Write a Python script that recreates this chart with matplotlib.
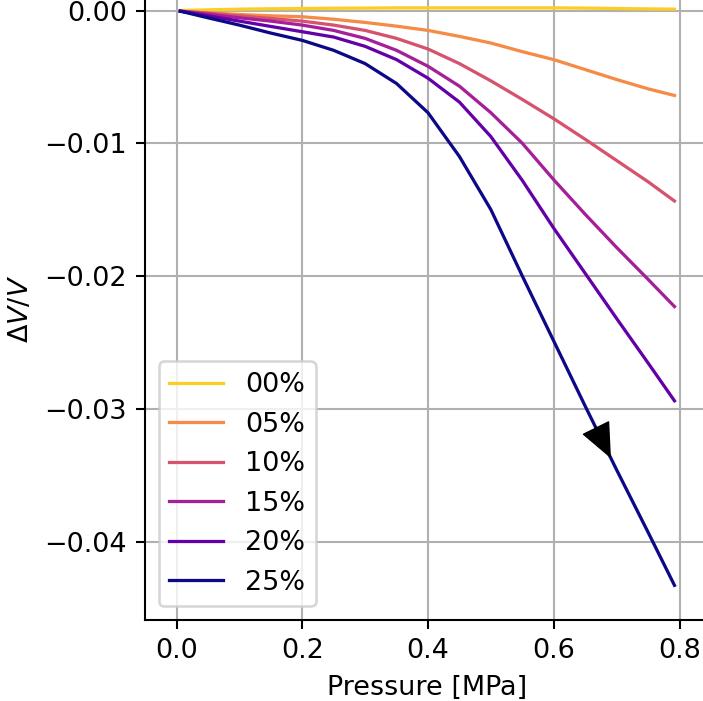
import numpy as np
import matplotlib
matplotlib.use("Agg")
import matplotlib.pyplot as plt

# Volumetric strain vs. applied pressure for several filler fractions
pressure = [0.006, 0.05, 0.10, 0.15, 0.20, 0.25, 0.30, 0.35, 0.40, 0.45,
            0.50, 0.55, 0.60, 0.65, 0.70, 0.75, 0.792]

labels = ["00%", "05%", "10%", "15%", "20%", "25%"]

dv_00 = [0.0, 0.00005, 0.00010, 0.00013, 0.00015, 0.00017, 0.00018, 0.00020,
         0.00020, 0.00020, 0.00020, 0.00020, 0.00020, 0.00018, 0.00015,
         0.00012, 0.00010]
dv_05 = [-0.00005, -0.00017, -0.00030, -0.00040, -0.00047, -0.00066, -0.00090,
         -0.00118, -0.00150, -0.00195, -0.00245, -0.00310, -0.00370, -0.00445,
         -0.00520, -0.00590, -0.00640]
dv_10 = [-0.00005, -0.00020, -0.00040, -0.00060, -0.00080, -0.00110, -0.00150,
         -0.00210, -0.00290, -0.00400, -0.00530, -0.00670, -0.00815, -0.00970,
         -0.01130, -0.01290, -0.01435]
dv_15 = [-0.00005, -0.00027, -0.00055, -0.00080, -0.00110, -0.00150, -0.00210,
         -0.00300, -0.00420, -0.00570, -0.00770, -0.01000, -0.01275, -0.01535,
         -0.01785, -0.02025, -0.02230]
dv_20 = [-0.00005, -0.00040, -0.00080, -0.00120, -0.00160, -0.00200, -0.00270,
         -0.00370, -0.00510, -0.00690, -0.00950, -0.01280, -0.01640, -0.01980,
         -0.02320, -0.02655, -0.02940]
dv_25 = [-0.00005, -0.00055, -0.00110, -0.00170, -0.00225, -0.00300, -0.00400,
         -0.00550, -0.00770, -0.01100, -0.01500, -0.02000, -0.02490, -0.02980,
         -0.03460, -0.03930, -0.04330]

series = [dv_00, dv_05, dv_10, dv_15, dv_20, dv_25]
colors = plt.cm.plasma(np.linspace(0.9, 0.0, len(series)))

plt.rcParams["font.size"] = 10.4

DPI = 187
fig = plt.figure(figsize=(703 / DPI, 701 / DPI), dpi=DPI)
ax = fig.add_axes([145 / 703, 81 / 701, 565 / 703, 623 / 701])

for vals, lab, col in zip(series, labels, colors):
    ax.plot(pressure, vals, color=col, lw=1.25, label=lab)

# direction marker on the 25% curve
px = np.array(pressure)
a0, a1 = 0.666, 0.691
ax.annotate("", xy=(a1, np.interp(a1, px, dv_25)),
            xytext=(a0, np.interp(a0, px, dv_25)),
            arrowprops=dict(arrowstyle="-|>,head_length=0.62,head_width=0.27",
                            mutation_scale=20, color="black", lw=0.5,
                            shrinkA=0, shrinkB=0))

ax.set_xlim(-0.0501, 0.8485)
ax.set_ylim(-0.04591, 0.001017)
ax.set_xticks([0.0, 0.2, 0.4, 0.6, 0.8])
ax.set_yticks([-0.04, -0.03, -0.02, -0.01, 0.0])
ax.grid(True)
ax.set_xlabel("Pressure [MPa]")
ax.set_ylabel(r"$\Delta V/V$")
ax.legend(loc="lower left")

fig.savefig("out.png", dpi=DPI)
